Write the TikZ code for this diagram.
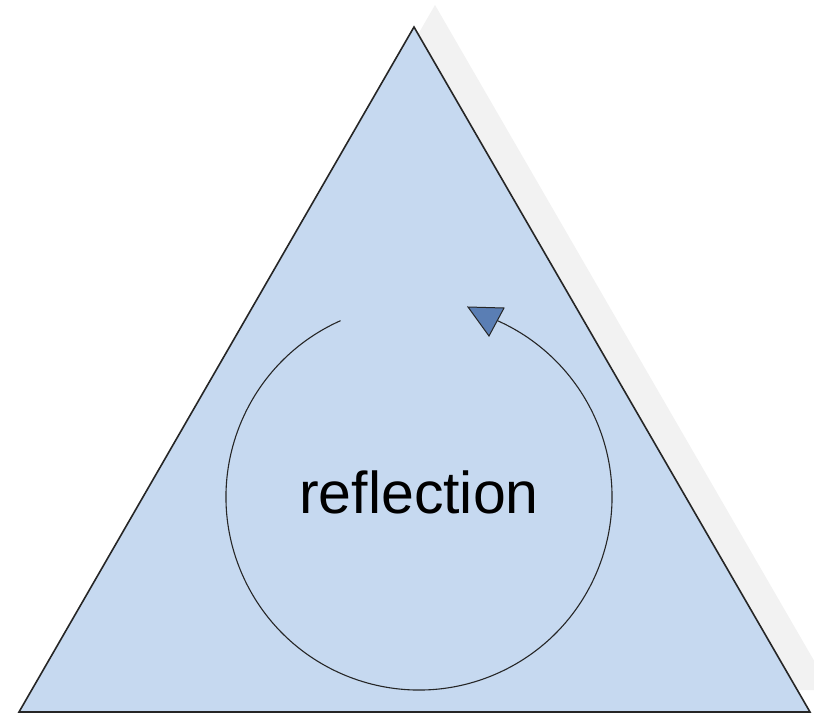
\documentclass[tikz,border=0pt]{standalone}
\usepackage{fontspec}
\setmainfont{Liberation Sans}
\definecolor{trifill}{HTML}{C6D9F0}
\definecolor{shadowgray}{HTML}{F2F2F2}
\definecolor{arrowfill}{HTML}{5A7EB4}
\begin{document}
\begin{tikzpicture}[x=1pt,y=-1pt,
  triline/.style={draw=black!85,line width=1.6pt,line join=miter},
  arcline/.style={draw=black!85,line width=1.1pt}]
\useasboundingbox (0,0) rectangle (814,714);
% shadow
\begin{scope}
\clip (0,0) rectangle (814,714);
\fill[shadowgray] (435,5) -- (831,690) -- (40,690) -- cycle;
\end{scope}
% triangle
\coordinate (A) at (414,27);
\coordinate (B) at (19,712);
\coordinate (C) at (810,712);
\fill[trifill] (A) -- (B) -- (C) -- cycle;
\draw[triline] (A) -- (B) -- (C) -- cycle;
% circular arc
\coordinate (O) at (419,497);
\draw[arcline] ([shift={(246:193)}]O) arc[start angle=246,end angle=-66,radius=193] coordinate (E);
% arrowhead
\filldraw[fill=arrowfill,draw=black!85,line width=1pt,line join=miter] (468,307) -- (504,308) -- (489,336) -- cycle;
% label
\node[anchor=base,inner sep=0pt,font=\fontsize{59}{70}\selectfont] (lbl) at (419,513) {reflection};
\end{tikzpicture}
\end{document}
